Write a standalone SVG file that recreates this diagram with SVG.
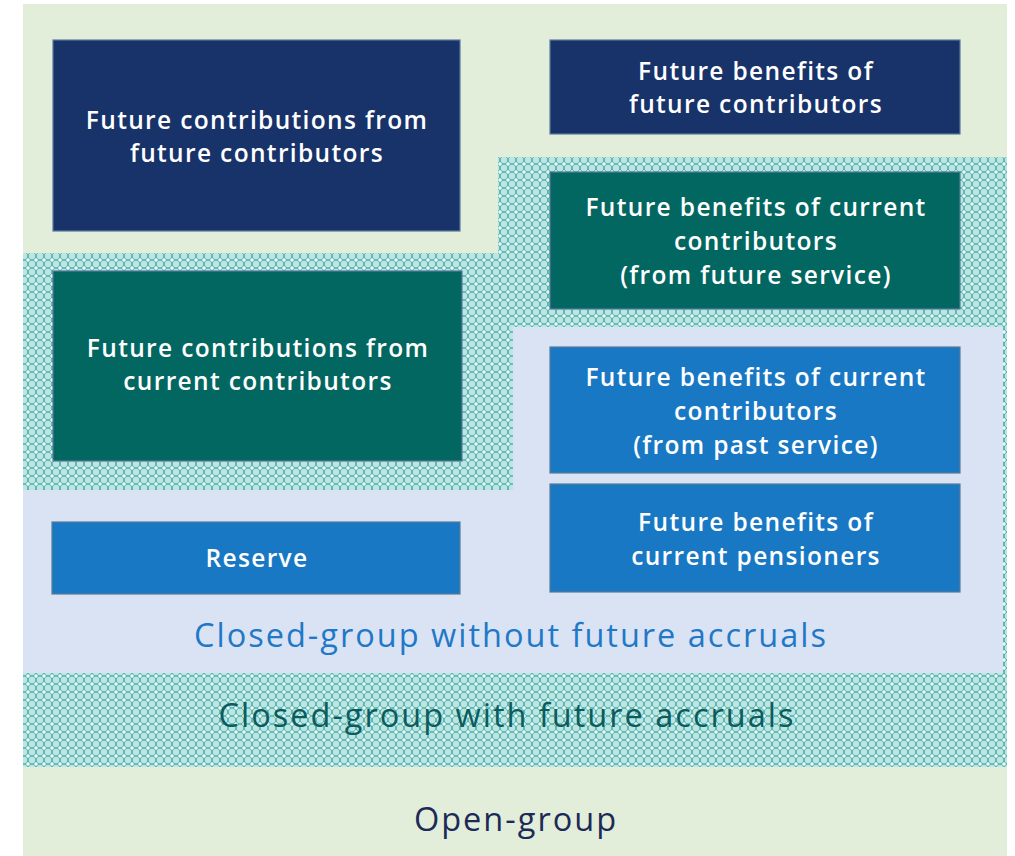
<svg xmlns="http://www.w3.org/2000/svg" width="1015" height="856" viewBox="0 0 1015 856">
  <defs>
    <!-- lattice fill used for the closed-group-with-accruals band -->
    <pattern id="lattice" width="8" height="8" patternUnits="userSpaceOnUse">
      <rect width="8" height="8" fill="#bfe5e2"/>
      <circle cx="0" cy="0" r="4" fill="none" stroke="#4fb3ae" stroke-width="1.2"/>
      <circle cx="8" cy="0" r="4" fill="none" stroke="#4fb3ae" stroke-width="1.2"/>
      <circle cx="0" cy="8" r="4" fill="none" stroke="#4fb3ae" stroke-width="1.2"/>
      <circle cx="8" cy="8" r="4" fill="none" stroke="#4fb3ae" stroke-width="1.2"/>
      <rect x="3.5" y="2" width="1" height="4" fill="#ffffff"/>
      <rect x="2" y="3.5" width="4" height="1" fill="#ffffff"/>
    </pattern>
  </defs>
  <style>
    .box { stroke: #5b7a9a; stroke-width: 1.2; }
    .navy { fill: #17336a; }
    .teal { fill: #026661; }
    .blue { fill: #1878c4; }
    .lbl { font-family: "Open Sans", "Liberation Sans", sans-serif; font-weight: 600; font-size: 24.5px; letter-spacing: 1.35px; fill: #ffffff; text-anchor: middle; }
    .region { font-family: "Open Sans", "Liberation Sans", sans-serif; font-size: 32.5px; letter-spacing: 2px; text-anchor: middle; }
  </style>

  <rect width="1015" height="856" fill="#ffffff"/>

  <!-- regions -->
  <g id="open-group">
    <rect x="23" y="4" width="984" height="852" fill="#e2eed9"/>
  </g>
  <g id="closed-group-with-accruals">
    <polygon points="23,253 498,253 498,157 1007,157 1007,767 23,767" fill="url(#lattice)"/>
  </g>
  <g id="closed-group-without-accruals">
    <polygon points="513,327 1003,327 1003,673 23,673 23,490 513,490" fill="#dae3f3"/>
  </g>

  <!-- nodes -->
  <g id="fut-contrib-fut">
    <rect class="box navy" x="53" y="40" width="407" height="191"/>
    <text class="lbl" x="257" y="129">Future contributions from</text>
    <text class="lbl" x="257" y="162">future contributors</text>
  </g>
  <g id="fut-ben-fut">
    <rect class="box navy" x="550" y="40" width="410" height="94"/>
    <text class="lbl" x="756" y="80">Future benefits of</text>
    <text class="lbl" x="756" y="113">future contributors</text>
  </g>
  <g id="fut-ben-cur-future-service">
    <rect class="box teal" x="550" y="172" width="410" height="137"/>
    <text class="lbl" x="756" y="216">Future benefits of current</text>
    <text class="lbl" x="756" y="250">contributors</text>
    <text class="lbl" x="756" y="284">(from future service)</text>
  </g>
  <g id="fut-contrib-cur">
    <rect class="box teal" x="53" y="271" width="409" height="190"/>
    <text class="lbl" x="258" y="357">Future contributions from</text>
    <text class="lbl" x="258" y="390">current contributors</text>
  </g>
  <g id="fut-ben-cur-past-service">
    <rect class="box blue" x="550" y="347" width="410" height="126"/>
    <text class="lbl" x="756" y="386">Future benefits of current</text>
    <text class="lbl" x="756" y="420">contributors</text>
    <text class="lbl" x="756" y="454">(from past service)</text>
  </g>
  <g id="fut-ben-pensioners">
    <rect class="box blue" x="550" y="484" width="410" height="108"/>
    <text class="lbl" x="756" y="531">Future benefits of</text>
    <text class="lbl" x="756" y="565">current pensioners</text>
  </g>
  <g id="reserve">
    <rect class="box blue" x="52" y="522" width="408" height="72"/>
    <text class="lbl" x="257" y="567">Reserve</text>
  </g>

  <!-- region captions -->
  <g id="captions">
    <text class="region" x="511" y="647" fill="#1f78c8">Closed-group without future accruals</text>
    <text class="region" x="507" y="727" fill="#0b5c5e">Closed-group with future accruals</text>
    <text class="region" x="516" y="831" fill="#1c2a58">Open-group</text>
  </g>

  <!-- no connectors in this diagram -->
  <g id="connectors"/>
</svg>
